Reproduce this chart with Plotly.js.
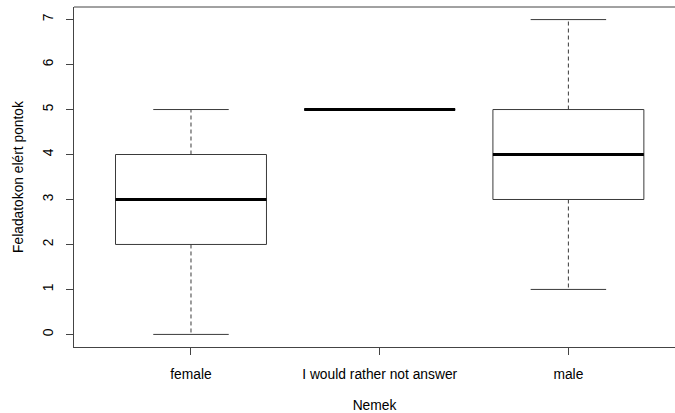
<!DOCTYPE html>
<html>
<head>
<meta charset="utf-8">
<script src="https://cdn.plot.ly/plotly-3.0.1.min.js"></script>
<style>html,body{margin:0;padding:0;background:#fff;overflow:hidden;}#chart{width:675px;height:413px;}</style>
</head>
<body>
<div id="chart"></div>
<script>
const categories = ["female", "I would rather not answer", "male"];
const whiskerLow = [0, 5, 1];
const q1 = [2, 5, 3];
const median = [3, 5, 4];
const q3 = [4, 5, 5];
const whiskerHigh = [5, 5, 7];
const yTicks = [0, 1, 2, 3, 4, 5, 6, 7];

const BOX_HALF = 0.4, CAP_HALF = 0.2;
const lineCol = '#3a3a3a';
const traces = [];
categories.forEach((c, i) => {
  const x = i + 1;
  traces.push({x: [x, x, null, x, x], y: [q3[i], whiskerHigh[i], null, q1[i], whiskerLow[i]],
    mode: 'lines', line: {color: lineCol, width: 1, dash: '4px,3px'}, hoverinfo: 'skip'});
  traces.push({x: [x - CAP_HALF, x + CAP_HALF, null, x - CAP_HALF, x + CAP_HALF],
    y: [whiskerHigh[i], whiskerHigh[i], null, whiskerLow[i], whiskerLow[i]],
    mode: 'lines', line: {color: lineCol, width: 1}, hoverinfo: 'skip'});
  traces.push({x: [x - BOX_HALF, x + BOX_HALF, x + BOX_HALF, x - BOX_HALF, x - BOX_HALF],
    y: [q1[i], q1[i], q3[i], q3[i], q1[i]],
    mode: 'lines', line: {color: lineCol, width: 1}, hoverinfo: 'skip'});
  traces.push({x: [x - BOX_HALF, x + BOX_HALF], y: [median[i], median[i]],
    mode: 'lines', line: {color: '#000', width: 3}, hoverinfo: 'skip'});
});

const font = {family: 'Liberation Sans, Arial, sans-serif', size: 13.8, color: '#000'};
const layout = {
  width: 675, height: 413,
  margin: {l: 74, r: 0, t: 7, b: 66},
  paper_bgcolor: '#fff', plot_bgcolor: '#fff',
  showlegend: false,
  font: font,
  xaxis: {
    range: [0.38, 3.565], showgrid: false, zeroline: false,
    showline: true, mirror: false, linecolor: '#444', linewidth: 1,
    tickvals: [1, 2, 3], ticktext: categories,
    ticks: 'outside', ticklen: 7, tickcolor: '#444', tickwidth: 1,
    ticklabelstandoff: 7,
    tickfont: font,
    title: {text: 'Nemek', font: font, standoff: 20}
  },
  yaxis: {
    range: [-0.28, 7.28], showgrid: false, zeroline: false,
    showline: true, mirror: false, linecolor: '#444', linewidth: 1,
    tickvals: yTicks, ticktext: yTicks.map(String),
    ticks: 'outside', ticklen: 7, tickcolor: '#444', tickwidth: 1,
    tickangle: -90, ticklabelstandoff: 7,
    tickfont: font,
    title: {text: 'Feladatokon elért pontok', font: font, standoff: 14}
  },
  shapes: [{type: 'line', xref: 'paper', yref: 'paper', x0: 0, x1: 1.01, y0: 1, y1: 1,
    line: {color: '#444', width: 1}}]
};
Plotly.newPlot('chart', traces, layout, {staticPlot: true, displayModeBar: false});
</script>
</body>
</html>
